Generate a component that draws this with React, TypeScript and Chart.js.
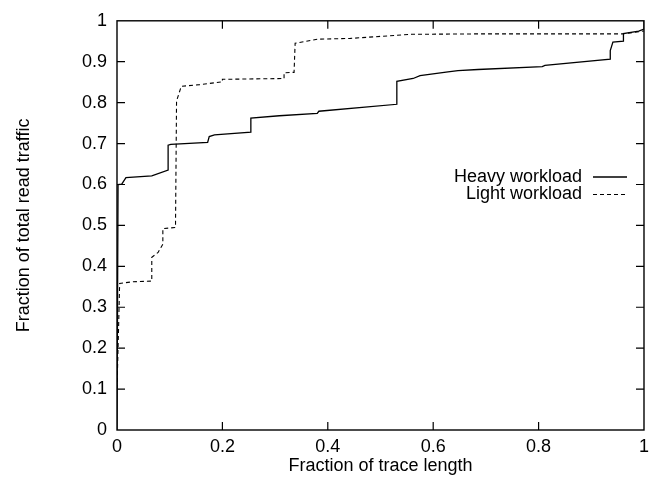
import React, { useEffect, useRef } from "react";
import { Chart, registerables } from "chart.js";

Chart.register(...registerables);

const heavyX = [0, 0.002, 0.009, 0.017, 0.066, 0.097, 0.097, 0.102, 0.172, 0.175, 0.185, 0.254, 0.254, 0.308, 0.38, 0.383, 0.531, 0.531, 0.562, 0.575, 0.628, 0.647, 0.685, 0.807, 0.812, 0.936, 0.936, 0.941, 0.961, 0.961, 0.99, 1.0, 1.0];
const heavyY = [0, 0.6, 0.601, 0.617, 0.621, 0.635, 0.696, 0.698, 0.703, 0.717, 0.721, 0.728, 0.762, 0.768, 0.774, 0.779, 0.796, 0.852, 0.859, 0.866, 0.875, 0.878, 0.881, 0.888, 0.891, 0.906, 0.927, 0.948, 0.95, 0.969, 0.975, 0.98, 1.0];

const lightX = [0, 0.003, 0.005, 0.028, 0.066, 0.066, 0.078, 0.087, 0.087, 0.111, 0.113, 0.122, 0.157, 0.2, 0.2, 0.317, 0.317, 0.336, 0.338, 0.38, 0.443, 0.559, 0.685, 0.959, 1.0];
const lightY = [0.1, 0.25, 0.358, 0.362, 0.364, 0.422, 0.434, 0.454, 0.492, 0.495, 0.804, 0.84, 0.844, 0.851, 0.857, 0.859, 0.873, 0.874, 0.945, 0.955, 0.957, 0.967, 0.968, 0.968, 0.975];

const seriesLabels = ["Heavy workload", "Light workload"];
const xTitle = "Fraction of trace length";
const yTitle = "Fraction of total read traffic";

const FONT = "'Liberation Sans', Arial, Helvetica, sans-serif";

const toPoints = (xs: number[], ys: number[]) => xs.map((x, i) => ({ x, y: ys[i] }));
const fmt = (v: number) => String(Math.round(v * 10) / 10);

const framePlugin = {
  id: "frameTicks",
  afterDraw(chart: any) {
    const { ctx, chartArea: a, scales } = chart;
    ctx.save();
    ctx.strokeStyle = "#000";
    ctx.lineWidth = 1.4;
    ctx.setLineDash([]);
    ctx.strokeRect(a.left, a.top, a.right - a.left, a.bottom - a.top);
    const tl = 8;
    ctx.lineWidth = 1.2;
    ctx.beginPath();
    scales.x.ticks.forEach((t: any) => {
      const px = scales.x.getPixelForValue(t.value);
      if (Math.abs(px - a.left) < 1 || Math.abs(px - a.right) < 1) return;
      ctx.moveTo(px, a.bottom);
      ctx.lineTo(px, a.bottom - tl);
      ctx.moveTo(px, a.top);
      ctx.lineTo(px, a.top + tl);
    });
    scales.y.ticks.forEach((t: any) => {
      const py = scales.y.getPixelForValue(t.value);
      if (Math.abs(py - a.top) < 1 || Math.abs(py - a.bottom) < 1) return;
      ctx.moveTo(a.left, py);
      ctx.lineTo(a.left + tl, py);
      ctx.moveTo(a.right, py);
      ctx.lineTo(a.right - tl, py);
    });
    ctx.stroke();

    // legend
    ctx.font = `18px ${FONT}`;
    ctx.fillStyle = "#000";
    ctx.textAlign = "right";
    ctx.textBaseline = "middle";
    const textRight = 582;
    const rowY = [177, 194.5];
    chart.data.datasets.forEach((ds: any, i: number) => {
      const y = rowY[i];
      ctx.fillText(ds.label, textRight, y);
      ctx.beginPath();
      ctx.lineWidth = ds.borderWidth;
      ctx.strokeStyle = ds.borderColor;
      ctx.setLineDash(ds.borderDash || []);
      ctx.moveTo(593, y);
      ctx.lineTo(627, y);
      ctx.stroke();
    });
    ctx.restore();
  },
};

export default function App() {
  const ref = useRef<HTMLCanvasElement | null>(null);
  useEffect(() => {
    if (!ref.current) return;
    const chart = new Chart(ref.current, {
      type: "scatter",
      data: {
        datasets: [
          {
            label: seriesLabels[0],
            data: toPoints(heavyX, heavyY),
            showLine: true,
            borderColor: "#000",
            borderWidth: 1.3,
            pointRadius: 0,
            tension: 0,
          },
          {
            label: seriesLabels[1],
            data: toPoints(lightX, lightY),
            showLine: true,
            borderColor: "#000",
            borderWidth: 1.1,
            borderDash: [4, 3],
            pointRadius: 0,
            tension: 0,
          },
        ],
      },
      options: {
        animation: false,
        responsive: false,
        layout: { padding: { left: 0, right: 8, top: 15.7, bottom: 0 } },
        plugins: { legend: { display: false }, tooltip: { enabled: false } },
        scales: {
          x: {
            type: "linear",
            min: 0,
            max: 1,
            grid: { display: false, drawTicks: false },
            border: { display: false },
            ticks: { stepSize: 0.2, padding: 6, color: "#000", font: { family: FONT, size: 18 }, callback: (v: any) => fmt(v), maxRotation: 0 },
            title: { display: true, text: xTitle, color: "#000", font: { family: FONT, size: 18 }, padding: { top: 0, bottom: 2 } },
            afterFit: (s: any) => { s.height = 49; },
          },
          y: {
            type: "linear",
            min: 0,
            max: 1,
            grid: { display: false, drawTicks: false },
            border: { display: false },
            ticks: { stepSize: 0.1, padding: 10, color: "#000", font: { family: FONT, size: 18 }, callback: (v: any) => fmt(v) },
            title: { display: true, text: yTitle, color: "#000", font: { family: FONT, size: 18 }, padding: { top: 13, bottom: 0 } },
            afterFit: (s: any) => { s.width = 117; },
          },
        },
      },
      plugins: [framePlugin],
    });
    return () => chart.destroy();
  }, []);
  return (
    <div style={{ position: "absolute", left: 0, top: 0, width: 655, height: 479, background: "#fff" }}>
      <canvas ref={ref} width={655} height={479} style={{ display: "block" }} />
    </div>
  );
}
